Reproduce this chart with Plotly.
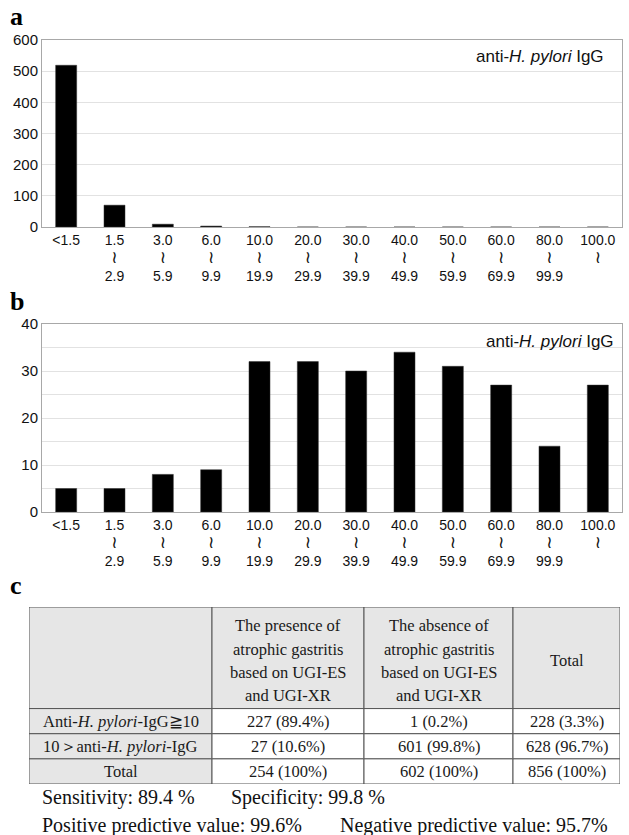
import plotly.graph_objects as go

# ---------------- data ----------------
bins = ["<1.5", "1.5-2.9", "3.0-5.9", "6.0-9.9", "10.0-19.9", "20.0-29.9",
        "30.0-39.9", "40.0-49.9", "50.0-59.9", "60.0-69.9", "80.0-99.9", "100.0-"]
WAVE = "<span style='font-size:17px;font-family:DejaVu Sans'>≀</span>"
tick_text = ["&lt;1.5", "1.5<br>" + WAVE + "<br>2.9", "3.0<br>" + WAVE + "<br>5.9",
             "6.0<br>" + WAVE + "<br>9.9", "10.0<br>" + WAVE + "<br>19.9",
             "20.0<br>" + WAVE + "<br>29.9", "30.0<br>" + WAVE + "<br>39.9",
             "40.0<br>" + WAVE + "<br>49.9", "50.0<br>" + WAVE + "<br>59.9",
             "60.0<br>" + WAVE + "<br>69.9", "80.0<br>" + WAVE + "<br>99.9",
             "100.0<br>" + WAVE + "<br> "]
counts_a = [519, 70, 9, 3, 1, 0, 0, 0, 0, 0, 0, 0]
counts_b = [5, 5, 8, 9, 32, 32, 30, 34, 31, 27, 14, 27]

table_header = ["",
                "The presence of<br>atrophic gastritis<br>based on UGI-ES<br>and UGI-XR",
                "The absence of<br>atrophic gastritis<br>based on UGI-ES<br>and UGI-XR",
                "Total"]
row_labels = ["Anti-<i>H. pylori</i>-IgG≧10", "10＞anti-<i>H. pylori</i>-IgG", "Total"]
col_presence = ["227 (89.4%)", "27 (10.6%)", "254 (100%)"]
col_absence = ["1 (0.2%)", "601 (99.8%)", "602 (100%)"]
col_total = ["228 (3.3%)", "628 (96.7%)", "856 (100%)"]

stats_line1 = ["Sensitivity: 89.4 %", "Specificity: 99.8 %"]
stats_line2 = ["Positive predictive value: 99.6%", "Negative predictive value: 95.7%"]

# ---------------- layout / style ----------------
W, H = 629, 835
def px_x(v): return v / W
def px_y(v): return 1 - v / H

sans = "Liberation Sans, Arial, sans-serif"
serif = "Liberation Serif, Times New Roman, serif"
grid = "#e2e2e2"
frame = "#a8a8a8"
grey = "#e6e6e6"
border = "#555555"

col_widths = [183, 152, 149, 107]      # table column widths (px)
row_heights = [101, 25, 25, 25]        # header + body rows (px)
header_line_gap = 23.3

fig = go.Figure()
fig.add_trace(go.Bar(x=bins, y=counts_a, marker=dict(color="black", line=dict(color="#333", width=0.5)),
                     xaxis="x", yaxis="y", showlegend=False, hoverinfo="x+y"))
fig.add_trace(go.Bar(x=bins, y=counts_b, marker=dict(color="black", line=dict(color="#333", width=0.5)),
                     xaxis="x2", yaxis="y2", showlegend=False, hoverinfo="x+y"))

xcommon = dict(type="category", tickvals=bins, ticktext=tick_text, showline=True, mirror=True,
               linecolor=frame, linewidth=1, ticks="", tickfont=dict(family=sans, size=14, color="#111"),
               domain=[px_x(42), px_x(622)], showgrid=False, automargin=False, fixedrange=True)
ycommon = dict(showline=True, mirror=True, linecolor=frame, linewidth=1, gridcolor=grid, gridwidth=1,
               zeroline=False, ticks="", tickfont=dict(family=sans, size=15, color="#111"),
               automargin=False, fixedrange=True)

# table geometry in its own axis (pixel units)
x_edges = [0]
for w in col_widths:
    x_edges.append(x_edges[-1] + w)
y_edges = [0]
for h in row_heights:
    y_edges.append(y_edges[-1] + h)

fig.update_layout(
    width=W, height=H, margin=dict(l=0, r=0, t=0, b=0, autoexpand=False),
    paper_bgcolor="white", plot_bgcolor="white", bargap=0.565, showlegend=False,
    xaxis=dict(anchor="y", **xcommon),
    yaxis=dict(anchor="x", domain=[px_y(227), px_y(40)], range=[0, 600], dtick=100, **ycommon),
    xaxis2=dict(anchor="y2", **xcommon),
    yaxis2=dict(anchor="x2", domain=[px_y(512), px_y(324)], range=[0, 40], dtick=10,
                minor=dict(dtick=5, showgrid=True, gridcolor=grid), **ycommon),
    xaxis3=dict(anchor="y3", domain=[px_x(29), px_x(620)], range=[0, x_edges[-1]], visible=False,
                automargin=False, fixedrange=True),
    yaxis3=dict(anchor="x3", domain=[px_y(784), px_y(607)], range=[y_edges[-1], 0], visible=False,
                automargin=False, fixedrange=True),
)

shapes = []
ann = []
body_cols = [row_labels, col_presence, col_absence, col_total]
n_rows = 1 + len(row_labels)
for r in range(n_rows):
    for c in range(len(col_widths)):
        fill = grey if (r == 0 or c == 0) else "white"
        shapes.append(dict(type="rect", xref="x3", yref="y3",
                           x0=x_edges[c], x1=x_edges[c + 1], y0=y_edges[r], y1=y_edges[r + 1],
                           fillcolor=fill, line=dict(color=border, width=1), layer="below"))
        xc = (x_edges[c] + x_edges[c + 1]) / 2
        yc = (y_edges[r] + y_edges[r + 1]) / 2
        if r == 0:
            lines = table_header[c].split("<br>") if table_header[c] else []
            n = len(lines)
            for i, ln in enumerate(lines):
                ann.append(dict(text=ln, x=xc, y=yc + 3 + (i - (n - 1) / 2) * header_line_gap,
                                xref="x3", yref="y3", showarrow=False, xanchor="center", yanchor="middle",
                                font=dict(family=serif, size=16.5, color="#1a1a1a")))
        else:
            ann.append(dict(text=body_cols[c][r - 1], x=xc, y=yc, xref="x3", yref="y3",
                            showarrow=False, xanchor="center", yanchor="middle",
                            font=dict(family=serif, size=16.5, color="#1a1a1a")))

for lab, yc in [("a", 17), ("b", 301), ("c", 585)]:
    ann.append(dict(text="<b>" + lab + "</b>", x=px_x(8), y=px_y(yc), xref="paper", yref="paper",
                    xanchor="left", yanchor="middle", showarrow=False,
                    font=dict(family=serif, size=26, color="black")))
for xr, yc in [(606, 56), (616, 341)]:
    ann.append(dict(text="anti-<i>H. pylori</i> IgG", x=px_x(xr), y=px_y(yc), xref="paper", yref="paper",
                    xanchor="right", yanchor="middle", showarrow=False,
                    font=dict(family=sans, size=17, color="#111")))
for txt, xl in zip(stats_line1, [40, 229]):
    ann.append(dict(text=txt, x=px_x(xl), y=px_y(797), xref="paper", yref="paper",
                    xanchor="left", yanchor="middle", showarrow=False,
                    font=dict(family=serif, size=20, color="#111")))
for txt, xl in zip(stats_line2, [40, 338]):
    ann.append(dict(text=txt, x=px_x(xl), y=px_y(825), xref="paper", yref="paper",
                    xanchor="left", yanchor="middle", showarrow=False,
                    font=dict(family=serif, size=20, color="#111")))
fig.update_layout(annotations=ann, shapes=shapes)

fig.write_html("out.html", config={"displayModeBar": False},
               post_script="document.body.style.margin='0';document.body.style.overflow='hidden';")
